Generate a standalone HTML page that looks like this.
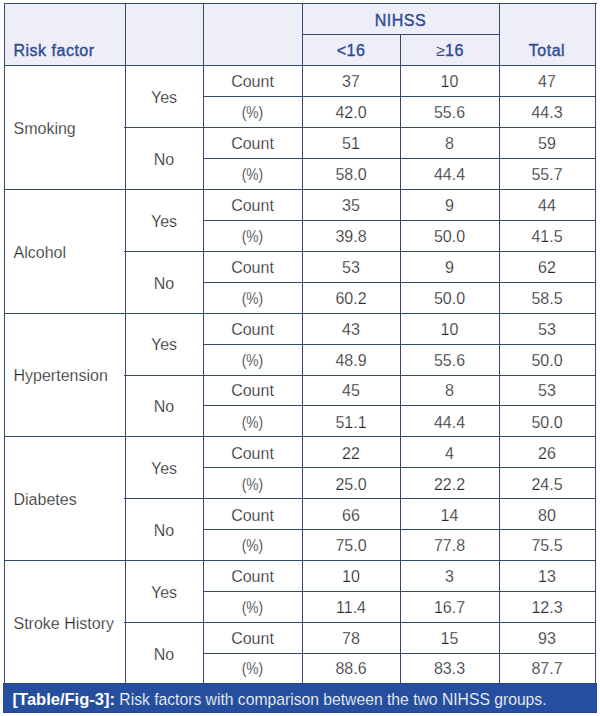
<!DOCTYPE html>
<html><head><meta charset="utf-8"><style>
html,body{margin:0;padding:0;background:#fff;}
body{width:600px;height:716px;position:relative;overflow:hidden;font-family:"Liberation Sans",sans-serif;}
.r{position:absolute;}
.t,.h{position:absolute;display:flex;align-items:center;justify-content:center;white-space:nowrap;}
.t{font-size:16px;color:#262626;-webkit-text-stroke:0.25px #fff;}
.pc{display:inline-block;transform:scaleX(0.86);}
.ge{-webkit-text-stroke:0;color:#3d4c74;position:relative;left:1px;margin-right:0.5px;}
.h{font-size:16px;color:#2e4d96;-webkit-text-stroke:0.4px #2e4d96;letter-spacing:0.5px;}
.l{justify-content:flex-start;padding-left:9.5px;box-sizing:border-box;}
.h.l{align-items:flex-end;padding-bottom:6px;}
.cap{position:absolute;left:12.6px;top:685px;height:29px;line-height:29px;color:#fff;font-size:15.7px;white-space:nowrap;-webkit-text-stroke:0.2px #254f9e;}
.cap b{font-size:16.5px;-webkit-text-stroke:0;}
</style></head><body>
<div class="r" style="left:4px;top:3px;width:592px;height:62px;background:#eeeef8"></div>
<div class="r" style="left:3px;top:683px;width:592px;height:28px;background:#254f9e;border:1px solid #24468f"></div>
<div class="r" style="left:4px;top:3px;width:593px;height:1px;background:#37496b"></div>
<div class="r" style="left:302px;top:34px;width:197px;height:1px;background:#37496b"></div>
<div class="r" style="left:4px;top:65px;width:592px;height:1px;background:#37496b"></div>
<div class="r" style="left:203px;top:96px;width:393px;height:1px;background:#37496b"></div>
<div class="r" style="left:124px;top:127px;width:472px;height:1px;background:#37496b"></div>
<div class="r" style="left:203px;top:158px;width:393px;height:1px;background:#37496b"></div>
<div class="r" style="left:4px;top:189px;width:592px;height:1px;background:#37496b"></div>
<div class="r" style="left:203px;top:220px;width:393px;height:1px;background:#37496b"></div>
<div class="r" style="left:124px;top:251px;width:472px;height:1px;background:#37496b"></div>
<div class="r" style="left:203px;top:282px;width:393px;height:1px;background:#37496b"></div>
<div class="r" style="left:4px;top:313px;width:592px;height:1px;background:#37496b"></div>
<div class="r" style="left:203px;top:344px;width:393px;height:1px;background:#37496b"></div>
<div class="r" style="left:124px;top:375px;width:472px;height:1px;background:#37496b"></div>
<div class="r" style="left:203px;top:405px;width:393px;height:1px;background:#37496b"></div>
<div class="r" style="left:4px;top:436px;width:592px;height:1px;background:#37496b"></div>
<div class="r" style="left:203px;top:467px;width:393px;height:1px;background:#37496b"></div>
<div class="r" style="left:124px;top:498px;width:472px;height:1px;background:#37496b"></div>
<div class="r" style="left:203px;top:529px;width:393px;height:1px;background:#37496b"></div>
<div class="r" style="left:4px;top:560px;width:592px;height:1px;background:#37496b"></div>
<div class="r" style="left:203px;top:591px;width:393px;height:1px;background:#37496b"></div>
<div class="r" style="left:124px;top:622px;width:472px;height:1px;background:#37496b"></div>
<div class="r" style="left:203px;top:653px;width:393px;height:1px;background:#37496b"></div>
<div class="r" style="left:4px;top:3px;width:1px;height:680px;background:#37496b"></div>
<div class="r" style="left:125px;top:3px;width:1px;height:680px;background:#37496b"></div>
<div class="r" style="left:203px;top:3px;width:1px;height:680px;background:#37496b"></div>
<div class="r" style="left:302px;top:3px;width:1px;height:680px;background:#37496b"></div>
<div class="r" style="left:499px;top:3px;width:1px;height:680px;background:#37496b"></div>
<div class="r" style="left:595px;top:3px;width:1px;height:680px;background:#37496b"></div>
<div class="r" style="left:400px;top:34px;width:1px;height:649px;background:#37496b"></div>
<div class="h l" style="left:4px;top:4px;width:121px;height:62px">Risk factor</div>
<div class="h c" style="left:302px;top:5px;width:197px;height:31px">NIHSS</div>
<div class="h c" style="left:302px;top:35px;width:98px;height:31px">&lt;16</div>
<div class="h c" style="left:400px;top:35px;width:99px;height:31px"><span class="ge">&ge;</span>16</div>
<div class="h c" style="left:499px;top:35px;width:96px;height:31px">Total</div>
<div class="t l" style="left:4px;top:67px;width:121px;height:124px">Smoking</div>
<div class="t c" style="left:125px;top:67px;width:78px;height:62px">Yes</div>
<div class="t c" style="left:125px;top:129px;width:78px;height:62px">No</div>
<div class="t c" style="left:203px;top:66px;width:99px;height:31px">Count</div>
<div class="t c" style="left:302px;top:66px;width:98px;height:31px">37</div>
<div class="t c" style="left:400px;top:66px;width:99px;height:31px">10</div>
<div class="t c" style="left:499px;top:66px;width:96px;height:31px">47</div>
<div class="t c" style="left:203px;top:97px;width:99px;height:31px"><span class="pc">(%)</span></div>
<div class="t c" style="left:302px;top:97px;width:98px;height:31px">42.0</div>
<div class="t c" style="left:400px;top:97px;width:99px;height:31px">55.6</div>
<div class="t c" style="left:499px;top:97px;width:96px;height:31px">44.3</div>
<div class="t c" style="left:203px;top:128px;width:99px;height:31px">Count</div>
<div class="t c" style="left:302px;top:128px;width:98px;height:31px">51</div>
<div class="t c" style="left:400px;top:128px;width:99px;height:31px">8</div>
<div class="t c" style="left:499px;top:128px;width:96px;height:31px">59</div>
<div class="t c" style="left:203px;top:159px;width:99px;height:31px"><span class="pc">(%)</span></div>
<div class="t c" style="left:302px;top:159px;width:98px;height:31px">58.0</div>
<div class="t c" style="left:400px;top:159px;width:99px;height:31px">44.4</div>
<div class="t c" style="left:499px;top:159px;width:96px;height:31px">55.7</div>
<div class="t l" style="left:4px;top:191px;width:121px;height:124px">Alcohol</div>
<div class="t c" style="left:125px;top:191px;width:78px;height:62px">Yes</div>
<div class="t c" style="left:125px;top:253px;width:78px;height:62px">No</div>
<div class="t c" style="left:203px;top:190px;width:99px;height:31px">Count</div>
<div class="t c" style="left:302px;top:190px;width:98px;height:31px">35</div>
<div class="t c" style="left:400px;top:190px;width:99px;height:31px">9</div>
<div class="t c" style="left:499px;top:190px;width:96px;height:31px">44</div>
<div class="t c" style="left:203px;top:221px;width:99px;height:31px"><span class="pc">(%)</span></div>
<div class="t c" style="left:302px;top:221px;width:98px;height:31px">39.8</div>
<div class="t c" style="left:400px;top:221px;width:99px;height:31px">50.0</div>
<div class="t c" style="left:499px;top:221px;width:96px;height:31px">41.5</div>
<div class="t c" style="left:203px;top:252px;width:99px;height:31px">Count</div>
<div class="t c" style="left:302px;top:252px;width:98px;height:31px">53</div>
<div class="t c" style="left:400px;top:252px;width:99px;height:31px">9</div>
<div class="t c" style="left:499px;top:252px;width:96px;height:31px">62</div>
<div class="t c" style="left:203px;top:283px;width:99px;height:31px"><span class="pc">(%)</span></div>
<div class="t c" style="left:302px;top:283px;width:98px;height:31px">60.2</div>
<div class="t c" style="left:400px;top:283px;width:99px;height:31px">50.0</div>
<div class="t c" style="left:499px;top:283px;width:96px;height:31px">58.5</div>
<div class="t l" style="left:4px;top:314px;width:121px;height:123px">Hypertension</div>
<div class="t c" style="left:125px;top:314px;width:78px;height:62px">Yes</div>
<div class="t c" style="left:125px;top:376px;width:78px;height:61px">No</div>
<div class="t c" style="left:203px;top:314px;width:99px;height:31px">Count</div>
<div class="t c" style="left:302px;top:314px;width:98px;height:31px">43</div>
<div class="t c" style="left:400px;top:314px;width:99px;height:31px">10</div>
<div class="t c" style="left:499px;top:314px;width:96px;height:31px">53</div>
<div class="t c" style="left:203px;top:345px;width:99px;height:31px"><span class="pc">(%)</span></div>
<div class="t c" style="left:302px;top:345px;width:98px;height:31px">48.9</div>
<div class="t c" style="left:400px;top:345px;width:99px;height:31px">55.6</div>
<div class="t c" style="left:499px;top:345px;width:96px;height:31px">50.0</div>
<div class="t c" style="left:203px;top:376px;width:99px;height:30px">Count</div>
<div class="t c" style="left:302px;top:376px;width:98px;height:30px">45</div>
<div class="t c" style="left:400px;top:376px;width:99px;height:30px">8</div>
<div class="t c" style="left:499px;top:376px;width:96px;height:30px">53</div>
<div class="t c" style="left:203px;top:407px;width:99px;height:31px"><span class="pc">(%)</span></div>
<div class="t c" style="left:302px;top:407px;width:98px;height:31px">51.1</div>
<div class="t c" style="left:400px;top:407px;width:99px;height:31px">44.4</div>
<div class="t c" style="left:499px;top:407px;width:96px;height:31px">50.0</div>
<div class="t l" style="left:4px;top:438px;width:121px;height:124px">Diabetes</div>
<div class="t c" style="left:125px;top:438px;width:78px;height:62px">Yes</div>
<div class="t c" style="left:125px;top:500px;width:78px;height:62px">No</div>
<div class="t c" style="left:203px;top:438px;width:99px;height:31px">Count</div>
<div class="t c" style="left:302px;top:438px;width:98px;height:31px">22</div>
<div class="t c" style="left:400px;top:438px;width:99px;height:31px">4</div>
<div class="t c" style="left:499px;top:438px;width:96px;height:31px">26</div>
<div class="t c" style="left:203px;top:469px;width:99px;height:31px"><span class="pc">(%)</span></div>
<div class="t c" style="left:302px;top:469px;width:98px;height:31px">25.0</div>
<div class="t c" style="left:400px;top:469px;width:99px;height:31px">22.2</div>
<div class="t c" style="left:499px;top:469px;width:96px;height:31px">24.5</div>
<div class="t c" style="left:203px;top:500px;width:99px;height:31px">Count</div>
<div class="t c" style="left:302px;top:500px;width:98px;height:31px">66</div>
<div class="t c" style="left:400px;top:500px;width:99px;height:31px">14</div>
<div class="t c" style="left:499px;top:500px;width:96px;height:31px">80</div>
<div class="t c" style="left:203px;top:530px;width:99px;height:31px"><span class="pc">(%)</span></div>
<div class="t c" style="left:302px;top:530px;width:98px;height:31px">75.0</div>
<div class="t c" style="left:400px;top:530px;width:99px;height:31px">77.8</div>
<div class="t c" style="left:499px;top:530px;width:96px;height:31px">75.5</div>
<div class="t l" style="left:4px;top:562px;width:121px;height:123px">Stroke History</div>
<div class="t c" style="left:125px;top:562px;width:78px;height:62px">Yes</div>
<div class="t c" style="left:125px;top:624px;width:78px;height:61px">No</div>
<div class="t c" style="left:203px;top:561px;width:99px;height:31px">Count</div>
<div class="t c" style="left:302px;top:561px;width:98px;height:31px">10</div>
<div class="t c" style="left:400px;top:561px;width:99px;height:31px">3</div>
<div class="t c" style="left:499px;top:561px;width:96px;height:31px">13</div>
<div class="t c" style="left:203px;top:592px;width:99px;height:31px"><span class="pc">(%)</span></div>
<div class="t c" style="left:302px;top:592px;width:98px;height:31px">11.4</div>
<div class="t c" style="left:400px;top:592px;width:99px;height:31px">16.7</div>
<div class="t c" style="left:499px;top:592px;width:96px;height:31px">12.3</div>
<div class="t c" style="left:203px;top:623px;width:99px;height:31px">Count</div>
<div class="t c" style="left:302px;top:623px;width:98px;height:31px">78</div>
<div class="t c" style="left:400px;top:623px;width:99px;height:31px">15</div>
<div class="t c" style="left:499px;top:623px;width:96px;height:31px">93</div>
<div class="t c" style="left:203px;top:654px;width:99px;height:30px"><span class="pc">(%)</span></div>
<div class="t c" style="left:302px;top:654px;width:98px;height:30px">88.6</div>
<div class="t c" style="left:400px;top:654px;width:99px;height:30px">83.3</div>
<div class="t c" style="left:499px;top:654px;width:96px;height:30px">87.7</div>
<div class="cap"><b>[Table/Fig-3]:</b> Risk factors with comparison between the two NIHSS groups.</div>
</body></html>
